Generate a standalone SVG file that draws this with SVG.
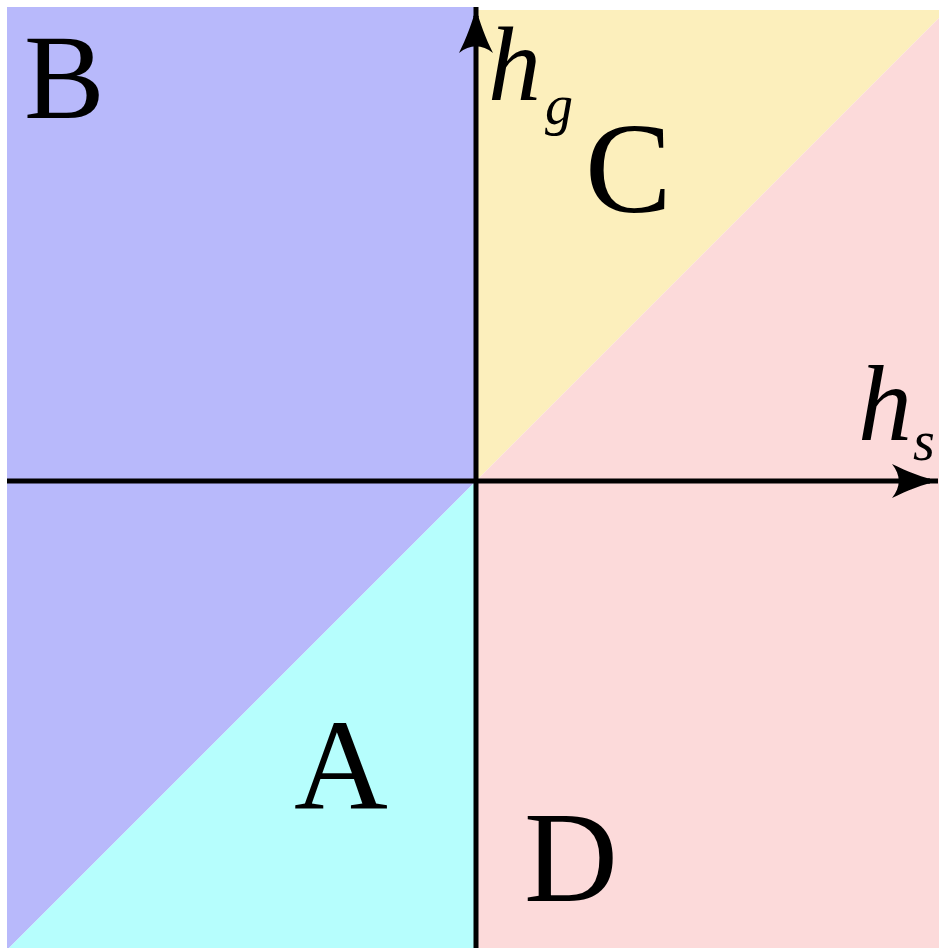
<svg xmlns="http://www.w3.org/2000/svg" width="939" height="948" viewBox="0 0 939 948">
<style>
.big{font-family:"Liberation Serif","Times New Roman",serif;fill:#000}
.math{font-family:"Liberation Serif","Times New Roman",serif;font-style:italic;fill:#000}
.axis{stroke:#000;stroke-width:5;fill:none}
</style>
<defs>
<marker id="arr" markerUnits="userSpaceOnUse" viewBox="-50 -20 52 40" refX="0" refY="0" markerWidth="52" markerHeight="40" orient="auto">
<path d="M0,0 C-14,-3 -32,-10 -46,-17 C-37,-6 -37,6 -46,17 C-32,10 -14,3 0,0 Z" fill="#000"/>
</marker>
</defs>
<rect width="939" height="948" fill="#fff"/>
<g id="regions">
<polygon id="regionB" points="7,7 476,7 476,481 9,948 7,948" fill="#b8b9fb"/>
<polygon id="regionA" points="476,481 476,948 9,948" fill="#b6fefd"/>
<polygon id="regionC" points="476,10 939,10 939,18 476,481" fill="#fcefbc"/>
<polygon id="regionD" points="476,481 939,18 939,948 476,948" fill="#fcdada"/>
</g>
<g id="connectors">
<line class="axis" x1="7" y1="481" x2="930" y2="481"/>
<line class="axis" x1="476" y1="948" x2="476" y2="16"/>
<line class="axis" x1="928" y1="481" x2="938" y2="481" stroke-width="1" marker-end="url(#arr)"/>
<line class="axis" x1="476" y1="17" x2="476" y2="7" stroke-width="1" marker-end="url(#arr)"/>
</g>
<g id="labels">
<g id="labelB"><text class="big" x="24" y="118" font-size="121">B</text></g>
<g id="labelC"><text class="big" x="585" y="212" font-size="130">C</text></g>
<g id="labelA"><text class="big" x="294" y="809" font-size="130">A</text></g>
<g id="labelD"><text class="big" x="524" y="901" font-size="130">D</text></g>
<g id="labelHg"><text class="math" x="488" y="100" font-size="106">h</text><text class="math" x="545" y="124" font-size="56">g</text></g>
<g id="labelHs"><text class="math" x="858" y="440" font-size="108">h</text><text class="math" x="913" y="460" font-size="56">s</text></g>
</g>
</svg>
